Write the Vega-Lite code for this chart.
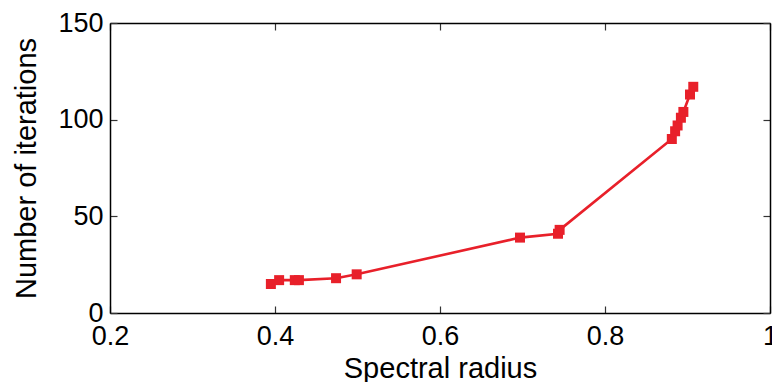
{
  "$schema": "https://vega.github.io/schema/vega-lite/v6.json",
  "width": 660,
  "height": 290,
  "autosize": "none",
  "padding": {"left": 110, "top": 23, "right": 2, "bottom": 69},
  "background": "white",
  "config": {
    "view": {"stroke": null},
    "font": "Liberation Sans",
    "axis": {
      "grid": false,
      "domainColor": "black",
      "domainWidth": 1.5,
      "tickColor": "#333333",
      "tickWidth": 1.2,
      "tickSize": -7,
      "labelFont": "Liberation Sans",
      "labelFontSize": 27,
      "labelColor": "black",
      "titleFont": "Liberation Sans",
      "titleFontSize": 29,
      "titleFontWeight": "normal",
      "titleColor": "black"
    }
  },
  "data": {
    "values": [
      {"radius": 0.395, "iterations": 15},
      {"radius": 0.405, "iterations": 17},
      {"radius": 0.424, "iterations": 17},
      {"radius": 0.429, "iterations": 17},
      {"radius": 0.474, "iterations": 18},
      {"radius": 0.499, "iterations": 20},
      {"radius": 0.697, "iterations": 39},
      {"radius": 0.743, "iterations": 41},
      {"radius": 0.745, "iterations": 43},
      {"radius": 0.881, "iterations": 90},
      {"radius": 0.885, "iterations": 94},
      {"radius": 0.888, "iterations": 97},
      {"radius": 0.892, "iterations": 101},
      {"radius": 0.895, "iterations": 104},
      {"radius": 0.903, "iterations": 113},
      {"radius": 0.907, "iterations": 117}
    ]
  },
  "layer": [
    {
      "mark": {"type": "line", "color": "#e8202a", "strokeWidth": 2.6, "point": {"shape": "square", "size": 100, "filled": true, "color": "#e8202a", "opacity": 1}},
      "encoding": {
        "x": {
          "field": "radius", "type": "quantitative",
          "scale": {"domain": [0.2, 1], "nice": false, "zero": false},
          "axis": {"orient": "bottom", "values": [0.2, 0.4, 0.6, 0.8, 1], "format": "~g", "title": "Spectral radius", "labelPadding": 17, "titlePadding": 5, "labelFlush": false}
        },
        "y": {
          "field": "iterations", "type": "quantitative",
          "scale": {"domain": [0, 150], "nice": false},
          "axis": {"orient": "left", "values": [0, 50, 100, 150], "title": "Number of iterations", "labelPadding": 14, "titlePadding": 16, "labelFlush": false}
        }
      }
    },
    {
      "mark": {"type": "point", "opacity": 0},
      "encoding": {
        "x": {
          "field": "radius", "type": "quantitative",
          "scale": {"domain": [0.2, 1], "nice": false, "zero": false},
          "axis": {"orient": "top", "values": [0.2, 0.4, 0.6, 0.8, 1], "labels": false, "title": null}
        },
        "y": {
          "field": "iterations", "type": "quantitative",
          "scale": {"domain": [0, 150], "nice": false},
          "axis": {"orient": "right", "values": [0, 50, 100, 150], "labels": false, "title": null}
        }
      }
    }
  ],
  "resolve": {"axis": {"x": "independent", "y": "independent"}}
}
